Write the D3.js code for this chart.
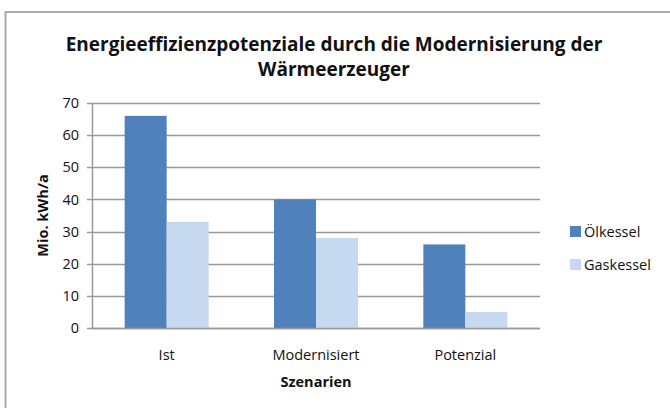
<!DOCTYPE html>
<html>
<head>
<meta charset="utf-8">
<script src="https://cdn.jsdelivr.net/npm/d3@7"></script>
<style>
  body { margin: 0; background: #fff; }
  svg { display: block; }
  text { font-family: "Open Sans", "Liberation Sans", sans-serif; fill: #111; }
</style>
</head>
<body>
<div id="chart"></div>
<script>
// chart data
const categories = ["Ist", "Modernisiert", "Potenzial"];
const seriesNames = ["Ölkessel", "Gaskessel"];
const oelValues = [66, 40, 26];
const gasValues = [33, 28, 5];
const yTicks = [0, 10, 20, 30, 40, 50, 60, 70];

const colors = ["#4f81bd", "#c6d9f0"];
const width = 670, height = 408;
const margin = { left: 92, right: 130, top: 103, bottom: 80 };

const svg = d3.select("#chart").append("svg")
  .attr("width", width)
  .attr("height", height);

// outer frame (only top and left edges are visible in the crop)
svg.append("path")
  .attr("d", `M5.5,${height + 2} V12 H${width + 2}`)
  .attr("fill", "none")
  .attr("stroke", "#aaa")
  .attr("stroke-width", 2);

const x0 = d3.scaleBand()
  .domain(categories)
  .range([margin.left, width - margin.right])
  .paddingInner(0.4375)
  .paddingOuter(0.4375 / 2);

const x1 = d3.scaleBand()
  .domain(seriesNames)
  .range([0, x0.bandwidth()]);

const y = d3.scaleLinear()
  .domain([0, 70])
  .range([height - margin.bottom, margin.top]);

// gridlines
svg.append("g")
  .selectAll("line")
  .data(yTicks)
  .join("line")
  .attr("x1", margin.left - 5)
  .attr("x2", width - margin.right)
  .attr("y1", d => Math.round(y(d)) + 0.5)
  .attr("y2", d => Math.round(y(d)) + 0.5)
  .attr("stroke", "#999")
  .attr("stroke-width", 1.5);

// y axis line
svg.append("line")
  .attr("x1", margin.left + 0.5)
  .attr("x2", margin.left + 0.5)
  .attr("y1", y(70))
  .attr("y2", y(0))
  .attr("stroke", "#999")
  .attr("stroke-width", 1.5);

// tick labels
svg.append("g")
  .selectAll("text")
  .data(yTicks)
  .join("text")
  .attr("x", margin.left - 13)
  .attr("y", d => y(d))
  .attr("dy", "0.35em")
  .attr("text-anchor", "end")
  .style("font-size", "14.5px")
  .text(d => d);

// bars
const rows = categories.map((c, i) => ({ cat: c, values: [oelValues[i], gasValues[i]] }));

svg.append("g")
  .selectAll("g")
  .data(rows)
  .join("g")
  .attr("transform", d => `translate(${x0(d.cat)},0)`)
  .selectAll("rect")
  .data(d => d.values.map((v, j) => ({ name: seriesNames[j], value: v, j })))
  .join("rect")
  .attr("x", d => x1(d.name))
  .attr("y", d => y(d.value))
  .attr("width", x1.bandwidth())
  .attr("height", d => y(0) - y(d.value))
  .attr("fill", d => colors[d.j]);

// baseline on top of bars
svg.append("line")
  .attr("x1", margin.left)
  .attr("x2", width - margin.right)
  .attr("y1", Math.round(y(0)) + 0.5)
  .attr("y2", Math.round(y(0)) + 0.5)
  .attr("stroke", "#999")
  .attr("stroke-width", 1.5);

// category labels
svg.append("g")
  .selectAll("text")
  .data(categories)
  .join("text")
  .attr("x", d => x0(d) + x0.bandwidth() / 2)
  .attr("y", 360)
  .attr("text-anchor", "middle")
  .style("font-size", "14.5px")
  .text(d => d);

// axis titles
svg.append("text")
  .attr("x", x0("Modernisiert") + x0.bandwidth() / 2)
  .attr("y", 387)
  .attr("text-anchor", "middle")
  .style("font-size", "14.5px")
  .style("font-weight", "bold")
  .text("Szenarien");

svg.append("text")
  .attr("transform", `translate(48,${(y(0) + y(70)) / 2}) rotate(-90)`)
  .attr("text-anchor", "middle")
  .style("font-size", "14.5px")
  .style("font-weight", "bold")
  .text("Mio. kWh/a");

// title
const title = svg.append("text")
  .attr("text-anchor", "middle")
  .style("font-size", "19px")
  .style("font-weight", "bold");
title.append("tspan").attr("x", 334).attr("y", 51).text("Energieeffizienzpotenziale durch die Modernisierung der");
title.append("tspan").attr("x", 334).attr("y", 76).text("Wärmeerzeuger");

// legend
const legend = svg.append("g")
  .selectAll("g")
  .data(seriesNames)
  .join("g")
  .attr("transform", (d, i) => `translate(570,${226 + i * 33})`);

legend.append("rect")
  .attr("width", 11)
  .attr("height", 11)
  .attr("fill", (d, i) => colors[i]);

legend.append("text")
  .attr("x", 14)
  .attr("y", 6)
  .attr("dy", "0.35em")
  .style("font-size", "14.5px")
  .text(d => d);
</script>
</body>
</html>
